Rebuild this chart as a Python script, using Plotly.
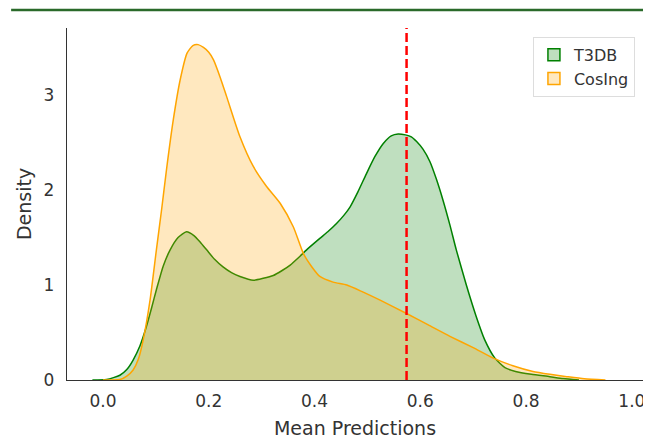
import plotly.graph_objects as go

# CosIng density curve
cosing_x = [0.00, 0.032, 0.045, 0.057, 0.067, 0.076, 0.089, 0.101, 0.111, 0.120, 0.133, 0.146,
            0.159, 0.170, 0.180, 0.190, 0.200, 0.209, 0.222, 0.234, 0.259, 0.284, 0.309, 0.335,
            0.360, 0.379, 0.395, 0.41, 0.435, 0.461, 0.49, 0.524, 0.574, 0.615, 0.656, 0.70,
            0.738, 0.775, 0.813, 0.845, 0.877, 0.91, 0.95]
cosing_y = [0.0, 0.005, 0.04, 0.105, 0.22, 0.42, 0.84, 1.37, 1.80, 2.21, 2.74, 3.16,
            3.44, 3.52, 3.53, 3.50, 3.45, 3.37, 3.18, 2.98, 2.56, 2.25, 2.04, 1.86,
            1.61, 1.33, 1.19, 1.09, 1.03, 1.0, 0.93, 0.84, 0.70, 0.58, 0.46, 0.34,
            0.23, 0.15, 0.09, 0.06, 0.035, 0.012, 0.0]

# T3DB density curve
t3db_x = [-0.02, 0.007, 0.032, 0.045, 0.057, 0.07, 0.082, 0.092, 0.101, 0.114, 0.127, 0.142,
          0.158, 0.172, 0.184, 0.196, 0.211, 0.227, 0.243, 0.259, 0.284, 0.303, 0.322, 0.338,
          0.354, 0.372, 0.385, 0.41, 0.425, 0.442, 0.455, 0.467, 0.482, 0.498, 0.514, 0.530,
          0.545, 0.558, 0.572, 0.583, 0.593, 0.605, 0.618, 0.630, 0.643, 0.656, 0.668, 0.687,
          0.705, 0.722, 0.741, 0.76, 0.78, 0.81, 0.845, 0.87, 0.9]
t3db_y = [0.0, 0.005, 0.05, 0.11, 0.21, 0.36, 0.56, 0.76, 0.95, 1.2, 1.37, 1.50,
          1.56, 1.52, 1.45, 1.37, 1.27, 1.19, 1.13, 1.09, 1.05, 1.07, 1.10, 1.15,
          1.21, 1.30, 1.37, 1.49, 1.56, 1.65, 1.73, 1.82, 1.98, 2.17, 2.35, 2.49,
          2.57, 2.59, 2.58, 2.56, 2.51, 2.43, 2.30, 2.12, 1.89, 1.63, 1.37, 1.0,
          0.68, 0.42, 0.23, 0.13, 0.09, 0.06, 0.035, 0.015, 0.0]

threshold = 0.574
x_ticks = [0.0, 0.2, 0.4, 0.6, 0.8, 1.0]
y_ticks = [0, 1, 2, 3]
series_names = ["T3DB", "CosIng"]

FONT = "DejaVu Sans"
GREEN_FILL = "rgba(0,128,0,0.25)"
ORANGE_FILL = "rgba(255,165,0,0.25)"

fig = go.Figure()
fig.add_trace(go.Scatter(
    x=t3db_x, y=t3db_y, name=series_names[0], mode="lines", fill="tozeroy", showlegend=False,
    line=dict(color="green", width=1.5, shape="spline", smoothing=0.6),
    fillcolor=GREEN_FILL))
fig.add_trace(go.Scatter(
    x=cosing_x, y=cosing_y, name=series_names[1], mode="lines", fill="tozeroy", showlegend=False,
    line=dict(color="orange", width=1.5, shape="spline", smoothing=0.6),
    fillcolor=ORANGE_FILL))
# legend patches (rectangles like the reference)
fig.add_trace(go.Bar(x=[None], y=[None], name=series_names[0],
                     marker=dict(color=GREEN_FILL, line=dict(color="green", width=1.5))))
fig.add_trace(go.Bar(x=[None], y=[None], name=series_names[1],
                     marker=dict(color=ORANGE_FILL, line=dict(color="orange", width=1.5))))

fig.add_shape(type="line", xref="x", yref="paper", x0=threshold, x1=threshold, y0=0, y1=1,
              line=dict(color="red", width=2.5, dash="9px,4px"))
# top rule
fig.add_shape(type="line", xref="paper", yref="paper", x0=-0.097, x1=1.014, y0=1.051, y1=1.051,
              line=dict(color="#2a6a2a", width=2.5))

fig.update_layout(
    width=643, height=431,
    margin=dict(l=59, r=8, t=20, b=59, autoexpand=False),
    paper_bgcolor="white", plot_bgcolor="white",
    font=dict(family=FONT, size=17, color="#333333"),
    showlegend=True,
    legend=dict(x=0.986, y=0.975, xanchor="right", yanchor="top", traceorder="normal",
                bgcolor="white", bordercolor="#dddddd", borderwidth=1,
                font=dict(size=16, color="#333333")),
    xaxis=dict(range=[-0.068, 1.021], tickvals=x_ticks, ticktext=[f"{v:.1f}" for v in x_ticks],
               showgrid=False, zeroline=False, showline=True, linecolor="#333333", linewidth=1.3,
               ticks="", ticklabelstandoff=5, tickfont=dict(size=17),
               title=dict(text="Mean Predictions", standoff=15, font=dict(size=19))),
    yaxis=dict(range=[0, 3.705], tickvals=y_ticks, showgrid=False, zeroline=False,
               showline=True, linecolor="#333333", linewidth=1.3, ticks="", ticklabelstandoff=8,
               tickfont=dict(size=17),
               title=dict(text="Density", standoff=6, font=dict(size=19))),
)

fig.write_html("out.html")
